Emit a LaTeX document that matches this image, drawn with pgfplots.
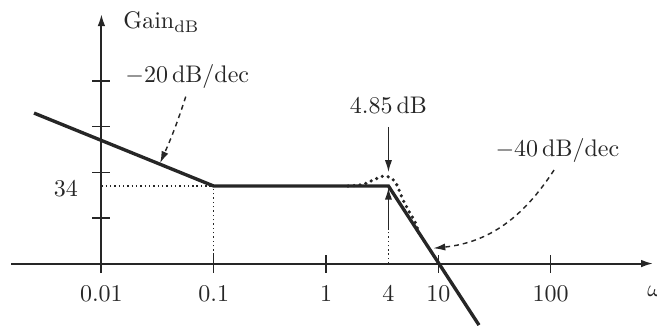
\documentclass[border=0pt]{standalone}
\usepackage{pgfplots}
\pgfplotsset{compat=1.18}
\usetikzlibrary{arrows.meta}
\begin{document}
\begin{tikzpicture}
\begin{axis}[
 scale only axis, width=267.5pt, height=107.9pt,
 xmin=-0.805, xmax=4.912, ymin=-4.2, ymax=109.4,
 enlargelimits=false, clip=false,
 axis lines=middle,
 axis line style={line width=0.8pt, black!85, -{Latex[length=5pt,width=3.2pt]}},
 hide obscured x ticks=false, hide obscured y ticks=false,
 xtick={0,1,2,3,4}, xticklabels={0.01,0.1,1,10,100},
 extra x ticks={2.556}, extra x tick labels={4},
 extra x tick style={major tick style={draw=none}},
 ytick={20,40,60,80}, yticklabels={},
 extra y ticks={34}, extra y tick labels={34},
 extra y tick style={major tick length=0pt},
 tick align=center, major tick length=7.5pt,
 every tick/.append style={black!85, line width=0.55pt},
 xticklabel style={anchor=base, yshift=-12.0pt, text=black!85},
 yticklabel style={anchor=east, xshift=-6.3pt, yshift=-1.2pt, text=black!85},
]
\coordinate (BL) at (axis cs:-0.903,-27.0);
\coordinate (TR) at (axis cs:4.947,115.6);
% asymptotic gain
\addplot[line width=1.4pt, black!85] coordinates {(-0.6,66) (1,34) (2.556,34) (3.362,-27)};
% actual gain near resonance
\addplot[smooth, tension=0.5, line width=1.5pt, line cap=round, dash pattern=on 0pt off 2.5pt, black!85]
 coordinates {(2.196,34) (2.329,34.7) (2.419,36.6) (2.525,38.4) (2.614,35.9) (2.686,27.9) (2.748,22.1) (2.793,18.3) (2.837,12.1)};
% guides
\addplot[line width=0.6pt, dash pattern=on 0.6pt off 1.2pt, black!85] coordinates {(0,34) (1,34)};
\addplot[line width=0.6pt, dash pattern=on 0.6pt off 1.2pt, black!85] coordinates {(1,0) (1,34)};
\addplot[line width=0.6pt, dash pattern=on 0.6pt off 1.2pt, black!85] coordinates {(2.556,0) (2.556,14.7)};
% arrows
\draw[line width=0.55pt, black!85, -{Latex[length=5pt,width=3pt]}] (axis cs:2.556,14.7) -- (axis cs:2.556,33.3);
\draw[line width=0.55pt, black!85, -{Latex[length=5pt,width=3pt]}] (axis cs:2.556,59.9) -- (axis cs:2.556,40.1);
\draw[line width=0.6pt, black!85, dash pattern=on 2pt off 1.7pt, -{Latex[length=5pt,width=3pt]}] (axis cs:0.751,73.2) to[out=252,in=66] (axis cs:0.522,44.0);
\draw[line width=0.6pt, black!85, dash pattern=on 2pt off 1.7pt, -{Latex[length=5pt,width=3pt]}] (axis cs:4.030,41.0) to[out=237,in=6] (axis cs:2.955,6.7);
% labels
\node[anchor=base west, inner sep=0pt, text=black!85] at (axis cs:0.192,102.9) {Gain$_{\mathrm{dB}}$};
\node[anchor=base west, inner sep=0pt, text=black!85] at (axis cs:0.210,79.2) {$-20\,\mathrm{dB/dec}$};
\node[anchor=base, inner sep=0pt, text=black!85] at (axis cs:2.556,65.9) {$4.85\,\mathrm{dB}$};
\node[anchor=base west, inner sep=0pt, text=black!85] at (axis cs:3.505,47.1) {$-40\,\mathrm{dB/dec}$};
\node[anchor=base west, inner sep=0pt, text=black!85] at (axis cs:4.858,-14.6) {$\omega$};
\end{axis}
\pgfresetboundingbox
\useasboundingbox (BL) rectangle (TR);
\end{tikzpicture}
\end{document}
